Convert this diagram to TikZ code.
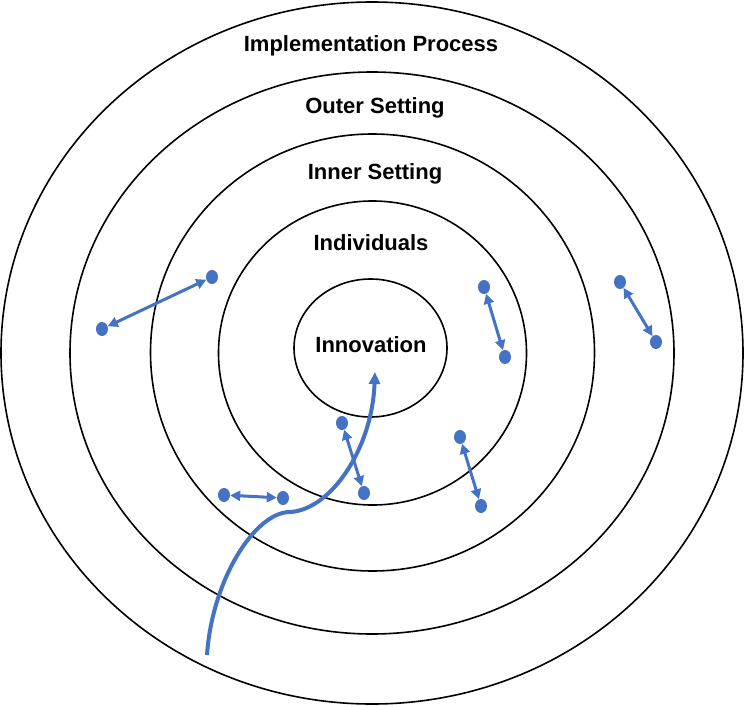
\documentclass[tikz,border=0pt]{standalone}
\usepackage{fontspec}
\setmainfont{Liberation Sans}
\usetikzlibrary{arrows.meta, shapes.geometric}
\definecolor{linkblue}{HTML}{4472C4}
\tikzset{
  ring/.style={line width=1.6pt, black},
  ringlabel/.style={font=\fontsize{22}{26}\selectfont\bfseries, anchor=base, inner sep=0pt},
  dot/.style={ellipse, fill=linkblue, minimum width=12pt, minimum height=14pt, inner sep=0pt},
  twoway/.style={linkblue, line width=3pt, {Triangle[length=10pt,width=10pt]}-{Triangle[length=10pt,width=10pt]}},
  pathway/.style={linkblue, line width=4pt, -{Triangle[length=12pt,width=11pt]}}
}

\begin{document}
\begin{tikzpicture}[x=1pt, y=-1pt]
  \useasboundingbox (0,0) rectangle (744,706);
  % rings, outer to inner
  \draw[ring] (372,353) ellipse [x radius=371, y radius=351];
  \draw[ring] (372,353) ellipse [x radius=302, y radius=281];
  \draw[ring] (372.5,352.5) ellipse [x radius=222, y radius=218.5];
  \draw[ring] (372.5,353) ellipse [x radius=154, y radius=152];
  \draw[ring] (370.5,348) ellipse [x radius=76.5, y radius=69];

  \node[ringlabel] (process) at (371,52) {Implementation Process};
  \node[ringlabel] (outer) at (375,114) {Outer Setting};
  \node[ringlabel] (inner) at (375,179) {Inner Setting};
  \node[ringlabel] (individuals) at (371,250) {Individuals};
  \node[ringlabel] (innovation) at (371,352) {Innovation};

  % linked pairs
  \foreach \name/\ax/\ay/\bx/\by in {west/102/329/212/277, mid/484/287/505/357,
      east/620/282/656/342, low/342/423/364/493, right/460/437/481/506, flat/224/495/283/498} {
    \node[dot] (\name a) at (\ax,\ay) {};
    \node[dot] (\name b) at (\bx,\by) {};
    \draw[twoway] (\name a) -- (\name b);
  }

  % path into the innovation
  \coordinate (entry) at (207,655);
  \coordinate (core) at (375,372);
  \draw[pathway] (entry) .. controls (212,580) and (255,512) .. (290,512)
    .. controls (330,510) and (372,450) .. (core);
\end{tikzpicture}
\end{document}
